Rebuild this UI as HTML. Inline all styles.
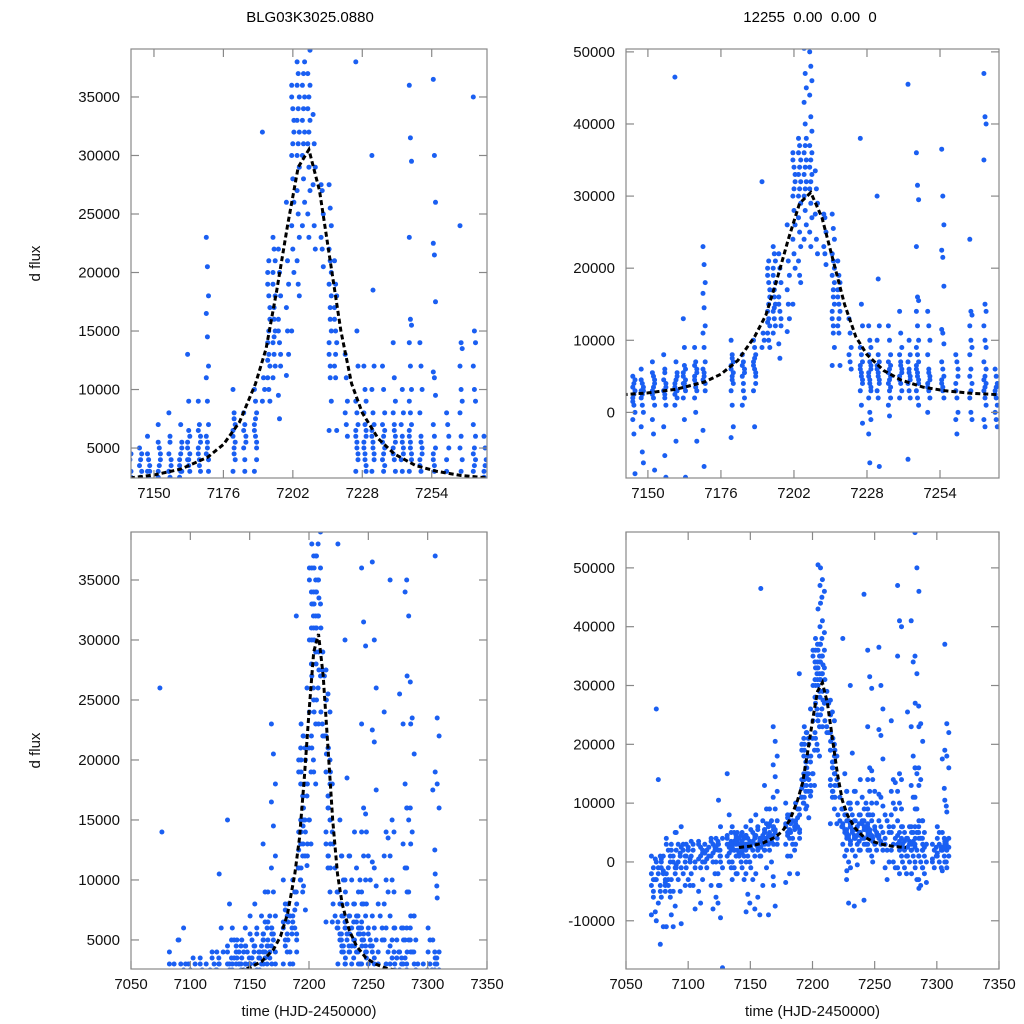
<!DOCTYPE html>
<html><head><meta charset="utf-8"><style>
html,body{margin:0;padding:0;background:#fff;width:1024px;height:1024px;overflow:hidden}
svg{display:block;font-family:"Liberation Sans",Arial,sans-serif}
</style></head><body>
<svg id="fig" width="1024" height="1024" viewBox="0 0 1024 1024" xmlns="http://www.w3.org/2000/svg">
<text x="310" y="22" font-size="15" text-anchor="middle">BLG03K3025.0880</text>
<text x="810" y="22" font-size="15" text-anchor="middle" xml:space="preserve">12255  0.00  0.00  0</text>
</svg>
<script>
// observation columns: times (HJD-2450000) and fluxes (thousands)
const obsTimes=[7072,7076,7080,7084,7088,7092,7096,7100,7104,7110,7115,7120,7124,7126,7133,7137,7141,7145,7148,7152,7156,7160,7163,7167,7170,7180,7184,7188,7191,7193,7195,7197,7200,7202,7204,7206,7208,7210,7213,7216,7218,7222,7226,7229,7232,7236,7240,7243,7246,7250,7255,7260,7265,7270,7274,7278,7281,7284,7287,7290,7298,7302,7306,7308];
const obsFluxK=[
[1,-1,-3,-4,-6,-8.5,-9,-3,0.5,-2,-5],
[26,14,-14,-10,-7,-5,-3,-1,1,0,-2,-4],
[-1,-2,-4,-6,-11,-3,0,1,-5,0.5,-1.5,-3.5],
[4,2,0,-2,-4,-6,-11,-3,1,3,-1,-5],
[3,1,-1,-3,-5,-7.5,-9,-11,5,2,0,-2],
[5,3,1,-1,-3,-5,2,0,1.5,-0.5],
[6,3,1,-1,-2,-4,-10.5,2,0,2.5],
[3,2,0,-1,-3,-4,1,2.5,0.5],
[3.5,2,0,-2,-4,-8,1,3,-1],
[3.5,2.5,1.5,0.5,-1,-3,-5,-7,2,3,1,0],
[3,2,1,0,-1,2.5,1.5,0.5],
[4,3,2,1,0,-2,-4,-8,2.5,3.5,1.5],
[4,3,2,0,-2,-4,-6,-7,1,2.5,3.5],
[10.5,6,4,3,1,-1,-4,-9.5,-18,2,0],
[15,8,5,4,3,2,1,0,-1,3,2.5,3.5,4.5,1.5],
[6,5,4,3,2,1,0,-1,-2,-3,2,3,2.5,3.5,4.5],
[5,4,3,2,1,0,-2,3,2.5,3.5,1.5,4.5],
[5,4,3,2,1,0,-1,-3,-8.5,3.5,2.5,4.5,1.5],
[6,4,3,2,1,0,-2,-5.5,-7,3,2.5,3.5,4.5],
[7,5,4,3,2,1,-1,-3,-8,2.5,3.5,4.5,5.5],
[8,6,4,3,2,1,-2,-6,-9,3,2.5,3.5,4.5,5.5],
[46.5,7,5,4,3,2,1,-4,3,3.5,4.5,5.5,2.5],
[13,9,6,5,4,3,2,-1,-9,4,3.5,4.5,5.5,6.5],
[9,7,6,5,4,3,2,0,-4,4.5,3.5,5.5,6.5],
[23,20.5,18,16.5,14.5,12,11,9,7,6,5,4,-2.5,-7.5,3,4.5,5.5],
[10,8,7,6,5,4,3,1,-2,-3.5,4.5,5.5,6.5,7.5],
[8,7,6,5,4,2,1,3,5.5,6.5],
[10,9,8,7,6,5,3,-2,5.5,6.5,7.5,4],
[32,11,10,9],
[20,18,16,14,13,12,11,10,9,12.5,15,17,19,21],
[23,22,21,19,17,15,14,13,12,11,16,18,20,14.5],
[22,20,18,16,14,12,9.5,7.5,13,15],
[26,21,19,17,15,13,11.2],
[36,34,32,30,28,26,24,22,20,15,31,33,35],
[38,37,35,33,31,29,27,25,23,21,19,18,36,34,32,30],
[50.5,47,45,43,40,38,36,34,32,30,28,26,24,37,35,33,31],
[50,48,46,44,41,39,37,35,33,31,29,27,25,23,36,34,32],
[33.5,31,29,27.5,24,22],
[27.5,27,25,23,22,20.5],
[27.5,25.5,24,22,21,20,19,17,15,13,11,9,6.5,16,18,14,12],
[21,19,18,16,15,14,12,11,6.5,17,13],
[13,11,9,8,7,6],
[38,15,12,9,8,7,6,5,4,3,1,-1.5,6.5,5.5,4.5],
[12,10,9,8,7,6,5,4,3,2,0,-1,-3,-7,6.5,5.5,4.5,3.5],
[30,18.5,12,10,8,7,6,5,4,3,2,-7.5,6.5,5.5,4.5],
[12,10,8,7,6,5,4,3,2,1,-0.5,6.5,5.5,4.5,3.5],
[14,11,9,8,7,6,5,4,3,2,6.5,5.5,4.5],
[45.5,10,8,7,6,5,4,3,2,-6.5,5.5,4.5],
[36,31.5,29.5,23,16,15.5,14,12,10,9,8,7,6,5,4,3,2,1,6.5,5.5,4.5],
[14,12,10,8,6,5,4,3,2,0,5.5,4.5,3.5],
[36.5,30,26,22.5,21.5,17.5,11.5,11,9.5,7,6,5,4,3,2,4.5,3.5],
[8,7,6,4,2,0,-1,-3,5,3],
[24,14,13.5,12,10,9,8,6,4,2,0,-1,5,3],
[47,41,40,35,15,14,12,10,9,7,5,4,3,2,1,-1,-2,6,4.5,3.5],
[6,5,4,3,2,1,0,-1,-2,2.5,3.5],
[25.5,6,5,4,3,2,1,0,-2,2.5,3.5],
[41,34,27,23,18,16,13,11,9,6,5,4,3,1,-1,2,3.5],
[56,50,46,35,32,23,16,15,13,11,9,7,6,5,4,3,2,1,0,-3,-4.5,2.5],
[26.5,23.5,20.5,16,14,7,6,4,3,1,0,-1,-3,-4,2,5],
[7,5,3,2,1,0,-1,-2,-3.5,4,2.5],
[3,2,1,0,-1,2.5,0.5],
[4,3,2,1,0,-1,6,5,2.5,1.5],
[17.5,12.5,9.5,5,4,3,2,1,0,-1.5,2.5,3.5],
[37,23.5,22,19,18,16,10.5,8.5,4,3,2,1,0,-1,2.5,3.5]
];
// model fit samples
const modelTimes=[7141,7150,7160,7170,7176,7182,7188,7192,7196,7200,7204,7208,7212,7216,7220,7224,7228,7234,7240,7248,7256,7265,7275];
const modelFlux=[2450,2700,3200,4200,5300,7200,10500,13500,18500,24000,29000,30500,27000,21000,15000,10500,8000,5800,4500,3500,3000,2650,2450];
const ticksXZoom=[7150,7176,7202,7228,7254];
const ticksXFull=[7050,7100,7150,7200,7250,7300,7350];
const ticksYSmall=[5000,10000,15000,20000,25000,30000,35000];
const ticksYTR=[0,10000,20000,30000,40000,50000];
const ticksYBR=[-10000,0,10000,20000,30000,40000,50000];

const NS="http://www.w3.org/2000/svg";
const svg=document.getElementById('fig');
function mk(tag,attrs,parent){const e=document.createElementNS(NS,tag);for(const k in attrs)e.setAttribute(k,attrs[k]);(parent||svg).appendChild(e);return e;}

const panels=[
 {id:'tl',x0:131,x1:487,y0:49,y1:478,xmin:7141.4,xmax:7274.7,ymin:2440,ymax:39100,xt:ticksXZoom,yt:ticksYSmall,ylab:true,xlab:false,jit:0.5},
 {id:'tr',x0:626,x1:999,y0:49,y1:478,xmin:7142.2,xmax:7275,ymin:-9100,ymax:50400,xt:ticksXZoom,yt:ticksYTR,ylab:false,xlab:false,jit:0.5},
 {id:'bl',x0:131,x1:487,y0:532,y1:969,xmin:7050,xmax:7350,ymin:2580,ymax:39000,xt:ticksXFull,yt:ticksYSmall,ylab:true,xlab:true,jit:0.9},
 {id:'br',x0:626,x1:999,y0:532,y1:969,xmin:7050,xmax:7350,ymin:-18200,ymax:56100,xt:ticksXFull,yt:ticksYBR,ylab:false,xlab:true,jit:0.9}
];
const defs=mk('defs',{});
panels.forEach(p=>{
 const sx=v=>p.x0+(v-p.xmin)/(p.xmax-p.xmin)*(p.x1-p.x0);
 const sy=v=>p.y1-(v-p.ymin)/(p.ymax-p.ymin)*(p.y1-p.y0);
 const cp=mk('clipPath',{id:'clip-'+p.id},defs);
 mk('rect',{x:p.x0,y:p.y0,width:p.x1-p.x0,height:p.y1-p.y0},cp);
 const g=mk('g',{'clip-path':'url(#clip-'+p.id+')'});
 
 
 obsTimes.forEach((t,i)=>{obsFluxK[i].forEach((f,j)=>{
   const v=f*1000;
   if(t<p.xmin-1||t>p.xmax+1||v<p.ymin-1500||v>p.ymax+1500)return;
   const off=((j%3)-1)*p.jit*2.2; // visual spread in pixels within a night
   const c=mk('circle',{cx:(sx(t)+off).toFixed(1),cy:sy(v).toFixed(1),r:2.5,fill:'#1a5ff2'},g);
   
   
 });});
 const pts=modelTimes.map((t,i)=>sx(t).toFixed(1)+','+sy(modelFlux[i]).toFixed(1)).join(' ');
 const pl=mk('polyline',{points:pts,fill:'none',stroke:'#000','stroke-width':3,'stroke-dasharray':'5,3'},g);
 
 
 const fr=mk('rect',{x:p.x0,y:p.y0,width:p.x1-p.x0,height:p.y1-p.y0,fill:'none',stroke:'#888','stroke-width':1.2});
 
 
 p.xt.forEach(v=>{
   const x=sx(v);
   mk('line',{x1:x,x2:x,y1:p.y1,y2:p.y1-8,stroke:'#888','stroke-width':1.2});
   mk('line',{x1:x,x2:x,y1:p.y0,y2:p.y0+8,stroke:'#888','stroke-width':1.2});
   const tx=mk('text',{x:x,y:p.y1+20,'font-size':15,'text-anchor':'middle',fill:'#111'});
   tx.textContent=v;
   
   
 });
 p.yt.forEach(v=>{
   const y=sy(v);
   mk('line',{x1:p.x0,x2:p.x0+8,y1:y,y2:y,stroke:'#888','stroke-width':1.2});
   mk('line',{x1:p.x1,x2:p.x1-8,y1:y,y2:y,stroke:'#888','stroke-width':1.2});
   const ty=mk('text',{x:p.x0-11,y:y+5,'font-size':15,'text-anchor':'end',fill:'#111'});
   ty.textContent=v;
   
   
 });
 if(p.ylab){
   const cy=(p.y0+p.y1)/2;
   const yl=mk('text',{x:40,y:cy,'font-size':15,'text-anchor':'middle',transform:'rotate(-90 40 '+cy+')',fill:'#111'});
   yl.textContent='d flux';
   
   
 }
 if(p.xlab){
   const xl=mk('text',{x:(p.x0+p.x1)/2,y:1016,'font-size':15,'text-anchor':'middle',fill:'#111'});
   xl.textContent='time (HJD-2450000)';
   
   
 }
});
</script>
</body></html>
